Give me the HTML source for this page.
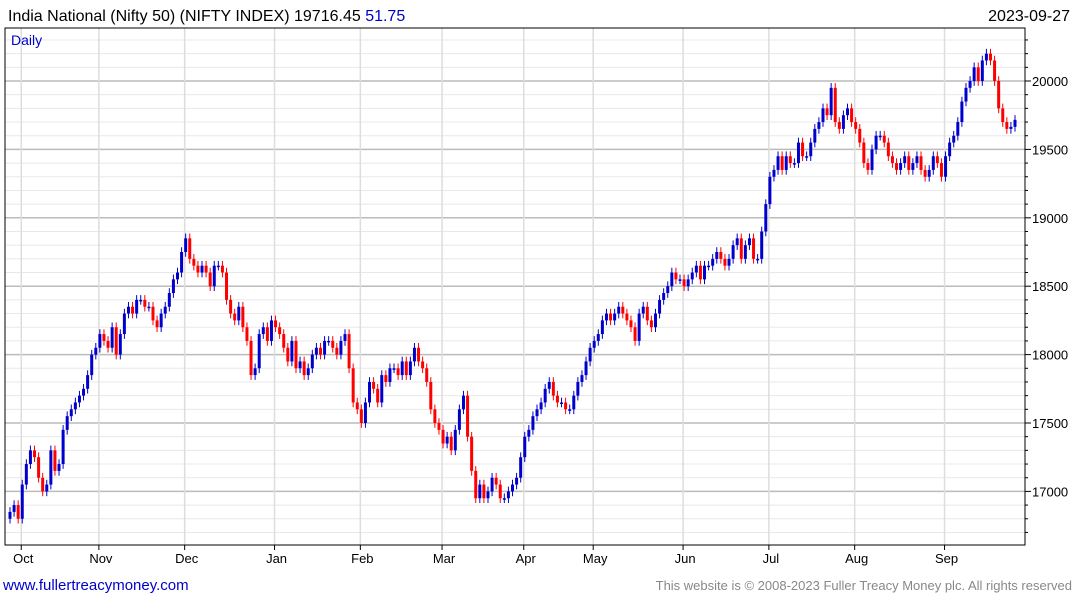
<!DOCTYPE html>
<html><head><meta charset="utf-8"><style>
body{margin:0;background:#fff;width:1075px;height:600px;overflow:hidden;font-family:"Liberation Sans",sans-serif}
svg{display:block}
</style></head><body>
<svg id="chart" width="1075" height="600" xmlns="http://www.w3.org/2000/svg">
<text x="8" y="21" font-size="16" fill="#000">India National (Nifty 50) (NIFTY INDEX) 19716.45 <tspan fill="#0000cc">51.75</tspan></text>
<text x="1070" y="21" font-size="16" text-anchor="end" fill="#000">2023-09-27</text>
<g id="grid"></g>
<g id="candles"></g>
<rect x="5" y="28" width="1020" height="517" fill="none" stroke="#000" stroke-width="1"/>
<g id="axes"></g>
<text x="11" y="45" font-size="14" fill="#0000cc">Daily</text>
<text x="3" y="590" font-size="15" fill="#0000cc">www.fullertreacymoney.com</text>
<text x="1072" y="590" font-size="13" text-anchor="end" fill="#888">This website is © 2008-2023 Fuller Treacy Money plc. All rights reserved</text>
</svg>
<script>
const closes=[16850,16900,16800,17050,17200,17300,17250,17100,17000,17050,17300,17150,17200,17450,17550,17600,17650,17700,17750,17850,18000,18050,
18150,18100,18050,18200,18000,18150,18300,18350,18300,18400,18400,18350,18350,18250,18200,18300,18350,18450,18550,18600,18750,
18850,18700,18650,18600,18650,18600,18500,18650,18650,18600,18400,18300,18250,18350,18200,18100,17850,17900,18150,18200,18100,18250,
18200,18150,18050,17950,18100,17900,17950,17850,17900,18000,18050,18000,18100,18100,18050,18000,18100,18150,17900,17650,17600,
17500,17650,17800,17750,17650,17850,17800,17900,17900,17850,17950,17850,17950,18050,17950,17900,17800,17600,17500,17450,
17350,17400,17300,17450,17600,17700,17400,17150,16950,17050,16950,17000,17100,17050,16950,16950,17000,17050,17100,17250,
17400,17450,17550,17600,17650,17750,17800,17700,17650,17650,17600,17600,17700,17800,17850,17950,18050,
18100,18150,18250,18300,18250,18300,18350,18300,18250,18200,18100,18300,18350,18250,18200,18300,18400,18450,18500,18600,18550,18550,
18500,18550,18600,18650,18550,18650,18650,18700,18750,18700,18650,18700,18800,18850,18700,18800,18850,18700,18700,18900,19100,
19300,19350,19450,19350,19450,19400,19400,19550,19450,19450,19550,19650,19700,19800,19750,19950,19700,19650,19750,19800,19700,
19650,19550,19400,19350,19500,19600,19600,19550,19450,19400,19350,19400,19450,19350,19400,19450,19350,19300,19350,19450,19400,19300,
19450,19550,19600,19700,19850,19950,20000,20100,20000,20150,20200,20150,20000,19800,19700,19650,19665,19716];
const opens=[16800].concat(closes.slice(0,-1));
const yTicks=[17000,17500,18000,18500,19000,19500,20000];
const months=["Oct","Nov","Dec","Jan","Feb","Mar","Apr","May","Jun","Jul","Aug","Sep"];
const monthStartIdx=[3,22,43,65,86,106,126,143,165,186,207,229];

const NS="http://www.w3.org/2000/svg";
const L=5,R=1025,T=28,B=545;
function yS(v){return 81+(20000-v)*0.1368;}
function xS(i){return 10+i*(1005/(closes.length-1));}
function mk(tag,at,parent){const e=document.createElementNS(NS,tag);for(const k in at)e.setAttribute(k,at[k]);parent.appendChild(e);return e;}
const grid=document.getElementById('grid'),cg=document.getElementById('candles'),ax=document.getElementById('axes');
for(let v=16700;v<=20300;v+=100){const y=yS(v);if(y<T||y>B)continue;const major=v%500===0;
 const ln=mk('line',{x1:L,x2:R,y1:y,y2:y,stroke:major?'#bbb':'#e8e8e8','stroke-width':major?1.5:1},grid);
 
 
 const tk=mk('line',{x1:R,x2:R+(major?6:3),y1:y,y2:y,stroke:'#000'},ax);
 
 }
yTicks.forEach(v=>{const t=mk('text',{x:R+7,y:yS(v)+5,'font-size':13,fill:'#000'},ax);t.textContent=v;
 
 });
months.forEach((m,k)=>{const x=xS(monthStartIdx[k])-1;
 const ln=mk('line',{x1:x,x2:x,y1:T,y2:B,stroke:'#ddd','stroke-width':1.5},grid);
 
 
 const tk=mk('line',{x1:x,x2:x,y1:B,y2:B+5,stroke:'#000'},ax);
 
 
 const t=mk('text',{x:x+2,y:563,'font-size':13,'text-anchor':'middle',fill:'#000'},ax);t.textContent=m;
 
 });
closes.forEach((c,i)=>{const o=opens[i];const up=c>=o;const col=up?'#0000cc':'#ff0000';const x=xS(i);
 const hi=Math.max(o,c)+35,lo=Math.min(o,c)-35;
 const g=mk('g',{},cg);
 
 
 mk('line',{x1:x,x2:x,y1:yS(hi),y2:yS(lo),stroke:col,'stroke-width':1},g);
 const top=yS(Math.max(o,c)),bot=yS(Math.min(o,c));
 mk('rect',{x:x-1.5,y:top,width:3,height:Math.max(1.5,bot-top),fill:col},g);});
</script>
</body></html>
